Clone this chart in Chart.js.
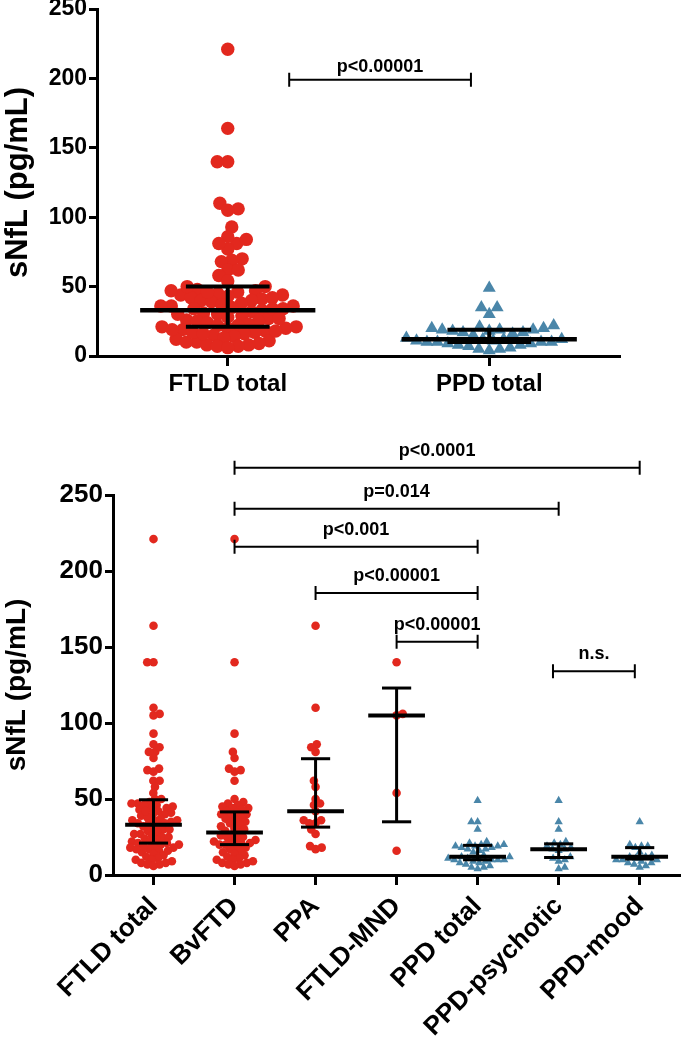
<!DOCTYPE html>
<html><head><meta charset="utf-8">
<script src="https://cdn.jsdelivr.net/npm/chart.js@4"></script>
<style>
html,body{margin:0;padding:0;background:#fff;width:685px;height:1051px;overflow:hidden}
#w1{position:absolute;left:0;top:0;width:685px;height:400px}
#w2{position:absolute;left:0;top:420px;width:685px;height:631px}
</style></head><body>
<div id="w1"><canvas id="c1"></canvas></div>
<div id="w2"><canvas id="c2"></canvas></div>
<script>
// ---------- DATA ----------
const topCategories = ['FTLD total', 'PPD total'];
const bottomCategories = ['FTLD total', 'BvFTD', 'PPA', 'FTLD-MND', 'PPD total', 'PPD-psychotic', 'PPD-mood'];
const yTickValues = [0, 50, 100, 150, 200, 250];

const bvftd = [221, 140, 93, 81, 77, 70, 69, 68, 62, 50, 48, 47, 46, 45, 44, 44, 43, 42, 41, 40, 40, 39, 38, 37, 36, 35,
  34, 33, 32, 31, 30, 29, 28, 27, 26, 25, 25, 24, 23, 22, 22, 21, 21, 20, 20, 19, 18, 17, 16, 15, 14, 13, 12, 11, 10, 10,
  9, 8, 8, 7, 7, 6];
const ppa = [164, 110, 86, 84, 81, 62, 58, 50, 47, 46, 42, 36, 36, 34, 34, 30, 27, 19, 18, 17];
const ftldMnd = [140, 106, 105, 54, 16];
const ppdPsychotic = [49, 35, 30, 22, 21, 20, 19, 18, 17, 17, 16, 12, 11, 10, 9, 5, 4];
const ppdMood = [35, 20, 19, 19, 18, 15, 13, 12, 12, 11, 10, 10, 10, 9, 8, 8, 7, 6, 5];
const ftldTotal = [].concat(bvftd, ppa, ftldMnd);
const ppdTotal = [].concat(ppdPsychotic, ppdMood);

// median and interquartile range
const topMedian = [33, 12];
const topQ1 = [21, 10];
const topQ3 = [50, 19];
const bottomMedian = [33, 28, 42, 105, 12, 17, 12];
const bottomQ1 = [21, 20, 31.5, 35, 10, 11.5, 10.5];
const bottomQ3 = [49.5, 41.5, 76.5, 123, 19.5, 20.5, 18];

// significance brackets
const topBracketFrom = [0.235];
const topBracketTo = [0.93];
const topBracketY = [199];
const topBracketLabels = ['p<0.00001'];
const bottomBracketFrom = [1, 1, 1, 2, 3, 4.93];
const bottomBracketTo = [6, 5, 4, 4, 4, 5.94];
const bottomBracketY = [268, 241, 216, 185.5, 153.5, 134];
const bottomBracketLabels = ['p<0.0001', 'p=0.014', 'p<0.001', 'p<0.00001', 'p<0.00001', 'n.s.'];

// ---------- DRAWING ----------
const F = "'Liberation Sans', Arial, sans-serif";
const RED = '#E2281E', BLUE = '#4A86A9';

function swarm(vals, D, pxX, pxY) {
  const idx = vals.map((v, i) => i).sort((a, b) => vals[a] - vals[b]);
  const placed = [], off = new Array(vals.length);
  let flip = 1;
  for (const i of idx) {
    const y = vals[i] * pxY;
    const cands = [0];
    for (const p of placed) {
      const dy = Math.abs(p.y - y);
      if (dy < D) { const dx = Math.sqrt(D * D - dy * dy) + 0.01; cands.push(p.x + dx, p.x - dx); }
    }
    cands.sort((a, b) => (Math.abs(a) - Math.abs(b)) || (flip * (a - b)));
    let best = 0;
    for (const c of cands) {
      if (placed.every(p => (p.x - c) ** 2 + (p.y - y) ** 2 >= D * D - 0.05)) { best = c; break; }
    }
    flip = -flip;
    placed.push({ x: best, y }); off[i] = best / pxX;
  }
  return off;
}

const bracketPlugin = {
  id: 'brackets',
  afterDatasetsDraw(chart, args, o) {
    const ctx = chart.ctx, xs = chart.scales.x, ys = chart.scales.y;
    ctx.save();
    ctx.strokeStyle = '#000'; ctx.fillStyle = '#000'; ctx.lineWidth = o.lineWidth;
    ctx.font = 'bold ' + o.fontSize + 'px ' + F;
    ctx.textAlign = 'center'; ctx.textBaseline = 'alphabetic';
    o.from.forEach((f, i) => {
      const x1 = xs.getPixelForValue(f), x2 = xs.getPixelForValue(o.to[i]), y = ys.getPixelForValue(o.y[i]);
      ctx.beginPath();
      ctx.moveTo(x1, y); ctx.lineTo(x2, y);
      ctx.moveTo(x1, y - o.tick); ctx.lineTo(x1, y + o.tick);
      ctx.moveTo(x2, y - o.tick); ctx.lineTo(x2, y + o.tick);
      ctx.stroke();
      ctx.fillText(o.labels[i], (x1 + x2) / 2, y - o.gap);
    });
    ctx.restore();
  }
};

function lineDs(data, w) {
  return { type: 'line', data, borderColor: '#000', borderWidth: w, pointRadius: 0, borderCapStyle: 'butt', clip: false, order: 0, fill: false };
}

function makeChart(id, cfg) {
  const n = cfg.categories.length;
  const datasets = [];
  cfg.medians.forEach((m, i) => {
    datasets.push(lineDs([{ x: i - cfg.medHalf, y: m }, { x: i + cfg.medHalf, y: m }], cfg.medWidth));
    datasets.push(lineDs([{ x: i - cfg.capHalf, y: cfg.q3[i] }, { x: i + cfg.capHalf, y: cfg.q3[i] }], cfg.capWidth));
    datasets.push(lineDs([{ x: i - cfg.capHalf, y: cfg.q1[i] }, { x: i + cfg.capHalf, y: cfg.q1[i] }], cfg.capWidth));
    datasets.push(lineDs([{ x: i, y: cfg.q1[i] }, { x: i, y: cfg.q3[i] }], cfg.capWidth));
  });
  const first = datasets.length;
  cfg.groups.forEach((vals, i) => {
    const tri = cfg.colors[i] === BLUE;
    datasets.push({ type: 'scatter', data: vals.map(v => ({ x: i, y: v })), pointStyle: tri ? 'triangle' : 'circle',
      pointRadius: tri ? cfg.triR : cfg.dotR, pointHoverRadius: tri ? cfg.triR : cfg.dotR,
      backgroundColor: cfg.colors[i], borderWidth: 0, clip: false, order: 1 });
  });
  const chart = new Chart(document.getElementById(id), {
    type: 'scatter',
    data: { datasets },
    plugins: [bracketPlugin],
    options: {
      responsive: true, maintainAspectRatio: false, animation: false,
      layout: { padding: cfg.padding },
      plugins: { legend: { display: false }, tooltip: { enabled: false },
        brackets: { from: cfg.bFrom, to: cfg.bTo, y: cfg.bY, labels: cfg.bLabels, lineWidth: 2, tick: 7, gap: cfg.bGap, fontSize: cfg.bFont } },
      scales: {
        x: {
          type: 'linear', min: -0.5, max: n - 0.5,
          afterBuildTicks: s => { s.ticks = cfg.categories.map((c, i) => ({ value: i })); },
          afterFit: s => { s.height = cfg.xHeight; s.paddingLeft = 0; s.paddingRight = 0; },
          ticks: { callback: v => cfg.categories[v], autoSkip: false, maxRotation: cfg.rot, minRotation: cfg.rot,
            color: '#000', padding: cfg.xPad, font: { family: F, size: cfg.xFont, weight: 'bold' } },
          grid: { drawOnChartArea: false, drawTicks: true, tickLength: 10, tickWidth: 3, tickColor: '#000' },
          border: { display: true, width: 3, color: '#000' }
        },
        y: {
          type: 'linear', min: 0, max: 250,
          afterBuildTicks: s => { s.ticks = yTickValues.map(v => ({ value: v })); },
          afterFit: s => { s.width = cfg.yWidth; s.paddingTop = 0; s.paddingBottom = 0; },
          ticks: { color: '#000', padding: 2, font: { family: F, size: cfg.yFont, weight: 'bold' } },
          grid: { drawOnChartArea: false, drawTicks: true, tickLength: 8, tickWidth: 3, tickColor: '#000' },
          border: { display: true, width: 3, color: '#000' },
          title: { display: true, text: 'sNfL (pg/mL)', color: '#000', padding: { top: 0, bottom: 0 },
            font: { family: F, size: cfg.titleFont, weight: 'bold' } }
        }
      }
    }
  });
  const xs = chart.scales.x, ys = chart.scales.y;
  const pxX = xs.getPixelForValue(1) - xs.getPixelForValue(0);
  const pxY = ys.getPixelForValue(0) - ys.getPixelForValue(1);
  cfg.groups.forEach((vals, i) => {
    const offs = swarm(vals, cfg.D, pxX, pxY);
    chart.data.datasets[first + i].data = vals.map((v, k) => ({ x: i + offs[k], y: v }));
  });
  chart.update('none');
  return chart;
}

makeChart('c1', {
  categories: topCategories, groups: [ftldTotal, ppdTotal], colors: [RED, BLUE],
  medians: topMedian, q1: topQ1, q3: topQ3,
  medHalf: 0.335, capHalf: 0.16, medWidth: 4.5, capWidth: 4,
  dotR: 6.7, triR: 7.5, D: 10.5,
  padding: { top: 9, right: 65, left: 0, bottom: 0 }, xHeight: 44, yWidth: 97,
  rot: 0, xPad: 4, xFont: 24, yFont: 23, titleFont: 31,
  bFrom: topBracketFrom, bTo: topBracketTo, bY: topBracketY, bLabels: topBracketLabels, bGap: 8, bFont: 18
});

makeChart('c2', {
  categories: bottomCategories, groups: [ftldTotal, bvftd, ppa, ftldMnd, ppdTotal, ppdPsychotic, ppdMood],
  colors: [RED, RED, RED, RED, BLUE, BLUE, BLUE],
  medians: bottomMedian, q1: bottomQ1, q3: bottomQ3,
  medHalf: 0.35, capHalf: 0.18, medWidth: 4, capWidth: 3,
  dotR: 4.3, triR: 4.8, D: 6.3,
  padding: { top: 75, right: 4, left: 0, bottom: 0 }, xHeight: 176, yWidth: 113,
  rot: 45, xPad: 6, xFont: 26, yFont: 26, titleFont: 28,
  bFrom: bottomBracketFrom, bTo: bottomBracketTo, bY: bottomBracketY, bLabels: bottomBracketLabels, bGap: 12, bFont: 18
});
</script>
</body></html>
